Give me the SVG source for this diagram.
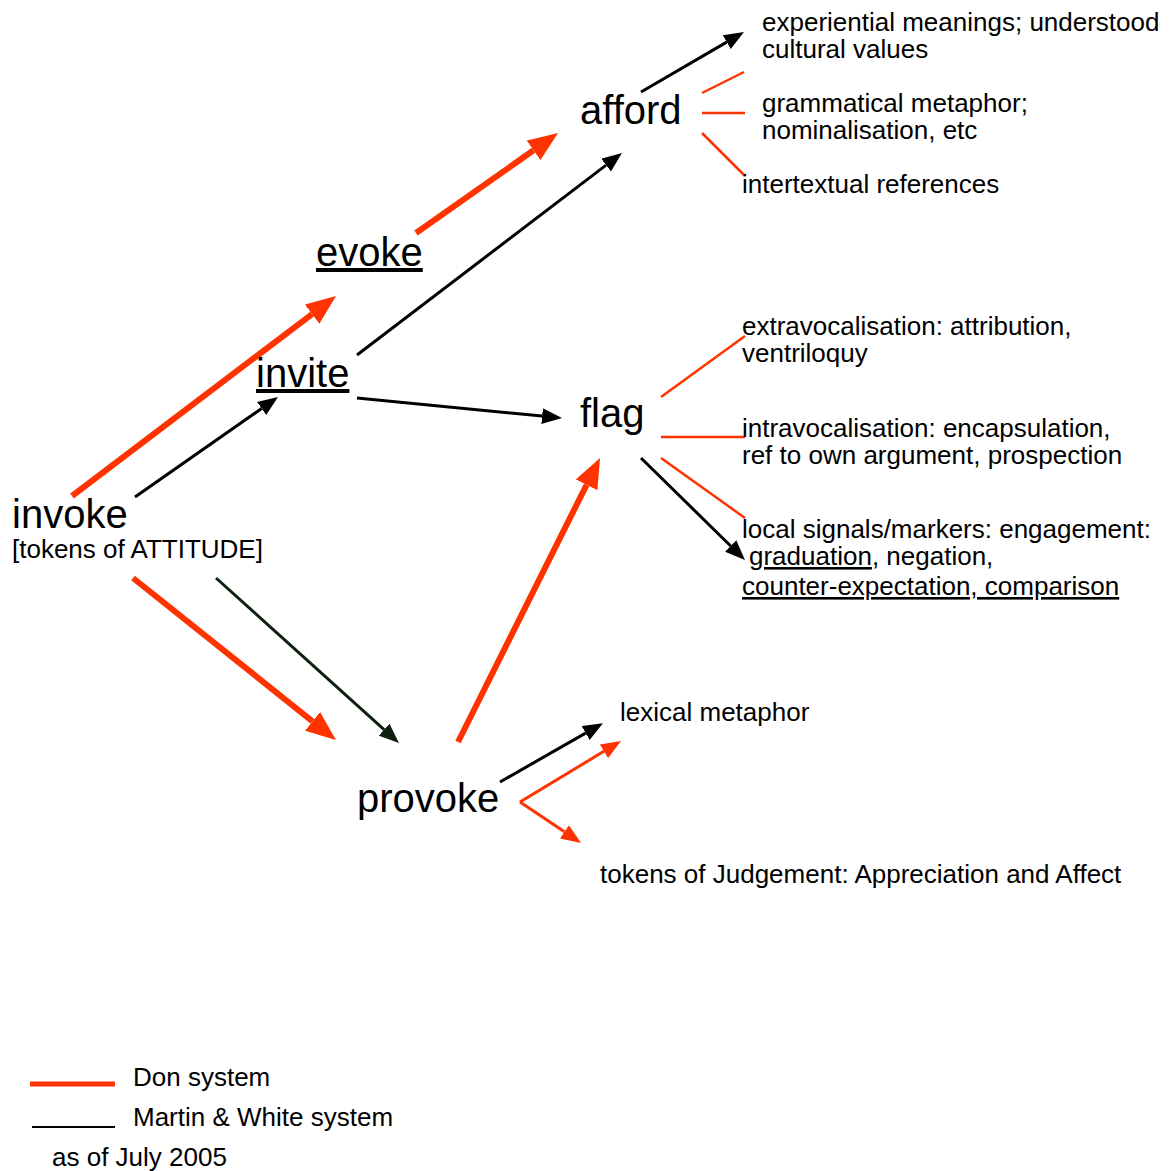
<svg xmlns="http://www.w3.org/2000/svg" width="1171" height="1171" viewBox="0 0 1171 1171">
<style>
text{font-family:"Liberation Sans",Arial,sans-serif;fill:#000}
.big{font-size:40px}
.sm{font-size:26px}
.u{text-decoration:underline}
.red{stroke:#ff3300;fill:none}
.blk{stroke:#000;fill:none;stroke-width:3}
.thick{stroke-width:6}
.thin{stroke-width:3}
.plain{stroke-width:2.5}
</style>
<defs>
<marker id="ar" markerUnits="userSpaceOnUse" markerWidth="30" markerHeight="24" refX="0" refY="12" orient="auto"><path d="M0,0 L30,12 L0,24 z" fill="#ff3300"/></marker>
<marker id="ars" markerUnits="userSpaceOnUse" markerWidth="20" markerHeight="16" refX="0" refY="8" orient="auto"><path d="M0,0 L20,8 L0,16 z" fill="#ff3300"/></marker>
<marker id="ab" markerUnits="userSpaceOnUse" markerWidth="20" markerHeight="16" refX="0" refY="8" orient="auto"><path d="M0,0 L20,8 L0,16 z" fill="#000"/></marker>
<marker id="ag" markerUnits="userSpaceOnUse" markerWidth="20" markerHeight="16" refX="0" refY="8" orient="auto"><path d="M0,0 L20,8 L0,16 z" fill="#0d200d"/></marker>
</defs>
<g id="connectors">
<line class="red thick" x1="72" y1="496" x2="312.1" y2="314.1" marker-end="url(#ar)"/>
<line class="red thick" x1="416" y1="233" x2="533.5" y2="150.3" marker-end="url(#ar)"/>
<line class="red thick" x1="133" y1="578" x2="312.5" y2="721.3" marker-end="url(#ar)"/>
<line class="red thick" x1="458" y1="742" x2="586.6" y2="484.8" marker-end="url(#ar)"/>
<line class="red thin" x1="520" y1="802" x2="603.9" y2="751.3" marker-end="url(#ars)"/>
<line class="red thin" x1="520" y1="802" x2="564.4" y2="831.8" marker-end="url(#ars)"/>
<line class="red plain" x1="702" y1="93" x2="744" y2="72"/>
<line class="red plain" x1="702" y1="113" x2="745" y2="113"/>
<line class="red plain" x1="702" y1="133" x2="745" y2="176"/>
<line class="red plain" x1="661" y1="397" x2="745" y2="336"/>
<line class="red plain" x1="661" y1="437" x2="745" y2="437"/>
<line class="red plain" x1="661" y1="458" x2="745" y2="518"/>
<line class="blk" x1="641" y1="92" x2="726.7" y2="42.1" marker-end="url(#ab)"/>
<line class="blk" x1="357" y1="355" x2="606.1" y2="165.1" marker-end="url(#ab)"/>
<line class="blk" x1="357" y1="398" x2="542.1" y2="416.1" marker-end="url(#ab)"/>
<line class="blk" x1="135" y1="497" x2="261.6" y2="408.5" marker-end="url(#ab)"/>
<line x1="216" y1="578" x2="384.1" y2="729.6" stroke="#0d200d" stroke-width="3" marker-end="url(#ag)"/>
<line class="blk" x1="641" y1="458" x2="730.7" y2="546" marker-end="url(#ab)"/>
<line class="blk" x1="500" y1="782" x2="585.6" y2="733.1" marker-end="url(#ab)"/>
</g>
<g id="invoke"><text class="big" x="12" y="528">invoke</text><text class="sm" x="12" y="558">[tokens of ATTITUDE]</text></g>
<g id="evoke"><text class="big u" x="316" y="266">evoke</text></g>
<g id="invite"><text class="big u" x="256" y="387">invite</text></g>
<g id="afford"><text class="big" x="580" y="124">afford</text></g>
<g id="flag"><text class="big" x="580" y="427">flag</text></g>
<g id="provoke"><text class="big" x="357" y="812">provoke</text></g>
<g id="experiential"><text class="sm" x="762" y="31">experiential meanings; understood<tspan x="762" dy="27">cultural values</tspan></text></g>
<g id="grammatical"><text class="sm" x="762" y="112">grammatical metaphor;<tspan x="762" dy="27">nominalisation, etc</tspan></text></g>
<g id="intertextual"><text class="sm" x="742" y="193">intertextual references</text></g>
<g id="extravocalisation"><text class="sm" x="742" y="335">extravocalisation: attribution,<tspan x="742" dy="27">ventriloquy</tspan></text></g>
<g id="intravocalisation"><text class="sm" x="742" y="437">intravocalisation: encapsulation,<tspan x="742" dy="27">ref to own argument, prospection</tspan></text></g>
<g id="local"><text class="sm" x="742" y="538">local signals/markers: engagement:<tspan x="749" dy="27" class="u">graduation</tspan><tspan>, negation,</tspan><tspan x="742" dy="30" class="u">counter-expectation, comparison</tspan></text></g>
<g id="lexical"><text class="sm" x="620" y="721">lexical metaphor</text></g>
<g id="tokens"><text class="sm" x="600" y="883">tokens of Judgement: Appreciation and Affect</text></g>
<g id="legend">
<line x1="30" y1="1084" x2="115" y2="1084" stroke="#ff3300" stroke-width="5"/>
<line x1="32" y1="1127" x2="115" y2="1127" stroke="#000" stroke-width="2"/>
<text class="sm" x="133" y="1086">Don system</text>
<text class="sm" x="133" y="1126">Martin &amp; White system</text>
<text class="sm" x="52" y="1166">as of July 2005</text>
</g>
</svg>
